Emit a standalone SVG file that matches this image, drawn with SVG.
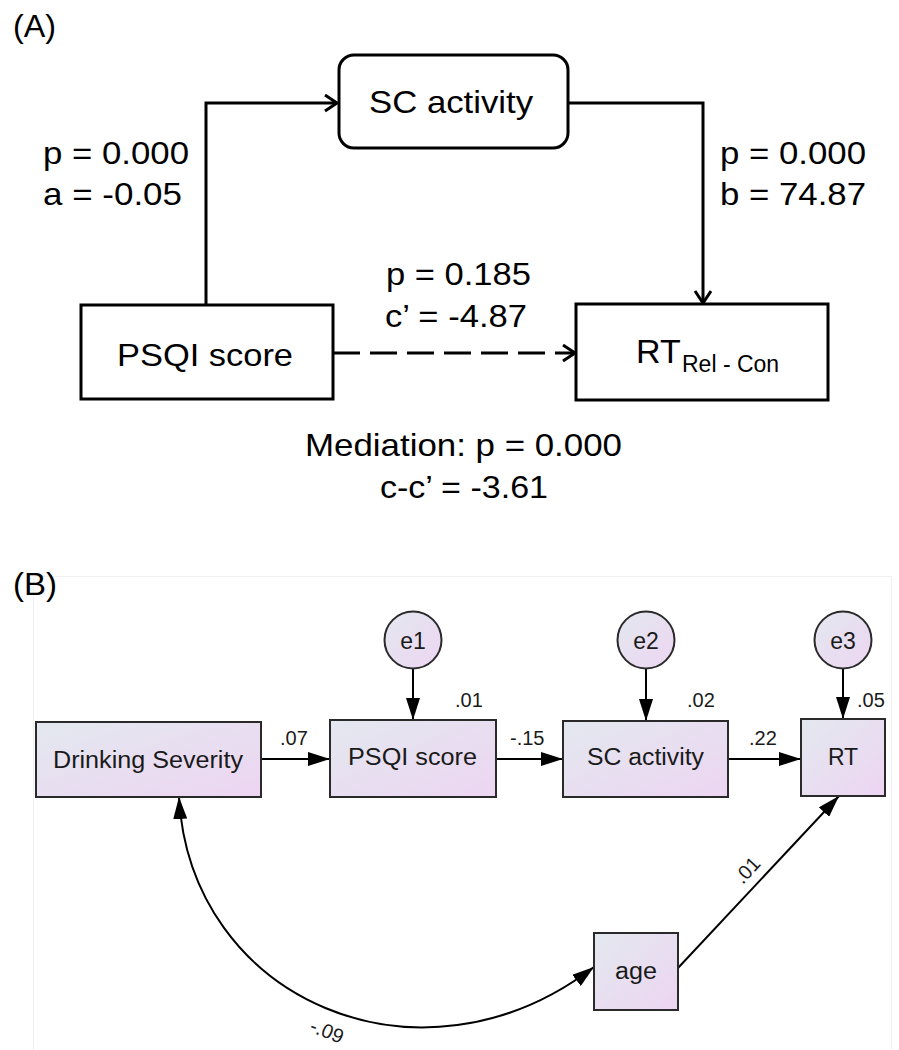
<svg xmlns="http://www.w3.org/2000/svg" width="899" height="1050" viewBox="0 0 899 1050">
<style>
text{font-family:"Liberation Sans",Arial,sans-serif;fill:#000}
.a{font-size:32px}
.b{font-size:23px;fill:#1a1a1a}
.lbl{font-size:20px;fill:#1a1a1a}
.boxA{fill:#fff;stroke:#000;stroke-width:3}
.boxB{fill:url(#g);stroke:#2a2a2a;stroke-width:2}
.lineA{fill:none;stroke:#000;stroke-width:3}
.lineB{fill:none;stroke:#000;stroke-width:2}
</style>
<defs>
<linearGradient id="g" x1="0" y1="0" x2="1" y2="1">
<stop offset="0" stop-color="#e3e8ef"/>
<stop offset="1" stop-color="#edd5f2"/>
</linearGradient>
<marker id="chev" markerUnits="userSpaceOnUse" markerWidth="16" markerHeight="20" refX="13" refY="9" orient="auto">
<path d="M1,1 L13,9 L1,17" fill="none" stroke="#000" stroke-width="3"/>
</marker>
<marker id="tri" markerUnits="userSpaceOnUse" markerWidth="22" markerHeight="14" refX="22" refY="7" orient="auto-start-reverse">
<path d="M0,0 L22,7 L0,14 z" fill="#000"/>
</marker>
</defs>
<rect x="33.5" y="576.5" width="858" height="480" fill="none" stroke="#f1f1f1" stroke-width="1"/>
<text class="a" x="13" y="37" font-size="30" textLength="43" lengthAdjust="spacingAndGlyphs">(A)</text>
<text class="a" x="13" y="595" font-size="30" textLength="44" lengthAdjust="spacingAndGlyphs">(B)</text>
<g id="connectors">
<path class="lineA" d="M206,305 V103 H337" marker-end="url(#chev)"/>
<path class="lineA" d="M568,103 H703 V303" marker-end="url(#chev)"/>
<path class="lineA" d="M333,353 H575" stroke-dasharray="27 10" marker-end="url(#chev)"/>
<path class="lineB" d="M261,759 H330" marker-end="url(#tri)"/>
<path class="lineB" d="M496,759 H563" marker-end="url(#tri)"/>
<path class="lineB" d="M728,759 H801" marker-end="url(#tri)"/>
<path class="lineB" d="M413,668 V720" marker-end="url(#tri)"/>
<path class="lineB" d="M646,668 V721" marker-end="url(#tri)"/>
<path class="lineB" d="M843,668 V719" marker-end="url(#tri)"/>
<path class="lineB" d="M678,968 L839,796" marker-end="url(#tri)"/>
<path class="lineB" d="M179,797 C190,1000 420,1100 594,967" marker-start="url(#tri)" marker-end="url(#tri)"/>
</g>
<g id="labels">
<text class="a" x="43" y="164" textLength="146" lengthAdjust="spacingAndGlyphs">p = 0.000</text>
<text class="a" x="43" y="205" textLength="139" lengthAdjust="spacingAndGlyphs">a = -0.05</text>
<text class="a" x="720" y="164" textLength="146" lengthAdjust="spacingAndGlyphs">p = 0.000</text>
<text class="a" x="720" y="205" textLength="146" lengthAdjust="spacingAndGlyphs">b = 74.87</text>
<text class="a" x="386" y="285" textLength="145" lengthAdjust="spacingAndGlyphs">p = 0.185</text>
<text class="a" x="385" y="327" textLength="142" lengthAdjust="spacingAndGlyphs">c’ = -4.87</text>
<text class="a" x="305" y="456" textLength="317" lengthAdjust="spacingAndGlyphs">Mediation: p = 0.000</text>
<text class="a" x="380" y="498" textLength="168" lengthAdjust="spacingAndGlyphs">c-c’ = -3.61</text>
<text class="lbl" x="280" y="745">.07</text>
<text class="lbl" x="510" y="745">-.15</text>
<text class="lbl" x="749" y="745">.22</text>
<text class="lbl" x="455" y="707">.01</text>
<text class="lbl" x="687" y="707">.02</text>
<text class="lbl" x="857" y="707">.05</text>
<text class="lbl" text-anchor="middle" transform="translate(747,870) rotate(-47)" dy="7">.01</text>
<text class="lbl" text-anchor="middle" transform="translate(327,1031) rotate(22)" dy="7">-.09</text>
</g>
<g id="node-sc-a">
<rect class="boxA" x="339" y="55" width="229" height="93" rx="15"/>
<text class="a" x="369" y="113" textLength="164" lengthAdjust="spacingAndGlyphs">SC activity</text>
</g>
<g id="node-psqi-a">
<rect class="boxA" x="81" y="305" width="252" height="94"/>
<text class="a" x="117" y="366" textLength="176" lengthAdjust="spacingAndGlyphs">PSQI score</text>
</g>
<g id="node-rt-a">
<rect class="boxA" x="576" y="304" width="252" height="96"/>
<text x="636" y="363" font-size="34">RT<tspan x="682" y="372" font-size="23">Rel - Con</tspan></text>
</g>
<g id="node-drinking">
<rect class="boxB" x="36" y="722" width="225" height="75"/>
<text class="b" x="53" y="768" textLength="190" lengthAdjust="spacingAndGlyphs">Drinking Severity</text>
</g>
<g id="node-psqi-b">
<rect class="boxB" x="330" y="720" width="166" height="77"/>
<text class="b" x="348" y="765" textLength="129" lengthAdjust="spacingAndGlyphs">PSQI score</text>
</g>
<g id="node-sc-b">
<rect class="boxB" x="563" y="721" width="165" height="76"/>
<text class="b" x="587" y="765" textLength="117" lengthAdjust="spacingAndGlyphs">SC activity</text>
</g>
<g id="node-rt-b">
<rect class="boxB" x="801" y="719" width="84" height="77"/>
<text class="b" x="843" y="765" text-anchor="middle">RT</text>
</g>
<g id="node-age">
<rect class="boxB" x="594" y="933" width="84" height="77"/>
<text class="b" x="636" y="979" text-anchor="middle" textLength="42" lengthAdjust="spacingAndGlyphs">age</text>
</g>
<g id="node-e1">
<circle class="boxB" cx="413" cy="640" r="28.5"/>
<text class="b" x="413" y="649" text-anchor="middle">e1</text>
</g>
<g id="node-e2">
<circle class="boxB" cx="646" cy="640" r="28.5"/>
<text class="b" x="646" y="649" text-anchor="middle">e2</text>
</g>
<g id="node-e3">
<circle class="boxB" cx="843" cy="640" r="28.5"/>
<text class="b" x="843" y="649" text-anchor="middle">e3</text>
</g>
</svg>
